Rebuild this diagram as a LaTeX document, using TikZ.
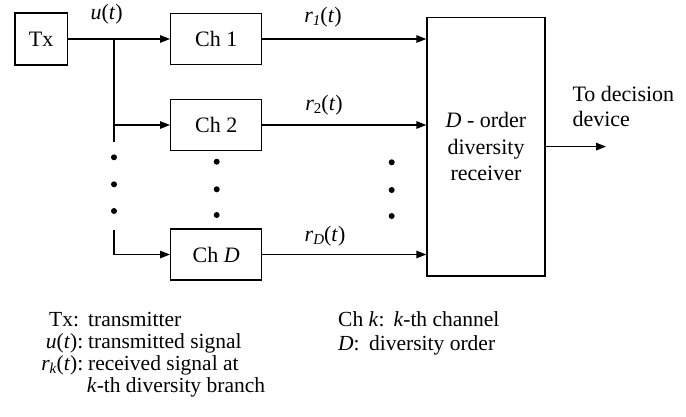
\documentclass[tikz,border=0pt]{standalone}
\usepackage{fontspec}
\setmainfont{Liberation Serif}
\usetikzlibrary{arrows.meta}
\newcommand{\sbs}[1]{\raisebox{-0.3ex}{\fontsize{15}{15}\selectfont #1}}
\begin{document}
\begin{tikzpicture}[x=1pt,y=-1pt,
  every node/.style={font=\fontsize{22}{26.5}\selectfont, inner sep=0pt},
  blk/.style={draw, line width=1.4pt, minimum width=91pt, minimum height=51pt},
  arr/.style={line width=1.4pt, -{Triangle[length=10pt,width=7.5pt]}},
  ln/.style={line width=1.4pt},
  lg/.style={anchor=base west, font=\fontsize{21.5}{25}\selectfont},
  lge/.style={anchor=base east, font=\fontsize{21.5}{25}\selectfont},
  dotc/.style={circle, fill, minimum size=6pt}
]
\useasboundingbox (0,0) rectangle (686,416);
% blocks
\node[blk, minimum width=52.3pt, minimum height=52.3pt] (tx) at (41.2,39) {Tx};
\node[blk] (ch1) at (216.2,39) {Ch 1};
\node[blk] (ch2) at (216.2,125) {Ch 2};
\node[blk] (chD) at (216.2,254.5) {Ch \textit{D}};
\node[blk, minimum width=118pt, minimum height=258.7pt, align=center] (rx) at (486,146.6) {\textit{D} - order\\diversity\\receiver};
% branch points
\coordinate (b1) at (114,39);
\coordinate (b2) at (114,125);
\coordinate (bt) at (114,141.7);
\coordinate (bD0) at (114,230);
\coordinate (bD) at (114,254.5);
\coordinate (out) at (606,146.6);
% connectors
\draw[arr] (tx.east) -- (ch1.west);
\draw[ln] (b1) -- (bt);
\draw[arr] (b2) -- (ch2.west);
\draw[arr] (bD0) -- (bD) -- (chD.west);
\draw[arr] (ch1.east) -- (ch1.east -| rx.west);
\draw[arr] (ch2.east) -- (ch2.east -| rx.west);
\draw[arr] (chD.east) -- (chD.east -| rx.west);
\draw[arr] (rx.east) -- (out);
% dots
\node[dotc] (d1) at (114,157.3) {};
\node[dotc] (d2) at (114,184.3) {};
\node[dotc] (d3) at (114,211) {};
\node[dotc] (d4) at (216.7,161.7) {};
\node[dotc] (d5) at (216.7,189.3) {};
\node[dotc] (d6) at (216.7,215) {};
\node[dotc] (d7) at (391.7,162.3) {};
\node[dotc] (d8) at (391.7,190) {};
\node[dotc] (d9) at (391.7,216) {};
% signal labels
\node[anchor=base] (ul) at (106.7,19) {\textit{u}(\textit{t})};
\node[anchor=base] (r1l) at (323,22) {\textit{r}\sbs{\textit{1}}(\textit{t})};
\node[anchor=base] (r2l) at (324,110) {\textit{r}\sbs{2}(\textit{t})};
\node[anchor=base] (rDl) at (325,241) {\textit{r}\sbs{\textit{D}}(\textit{t})};
\node[anchor=base west] (dec1) at (572.3,101.7) {To decision};
\node[anchor=base west] (dec2) at (572.3,126.7) {device};
% legend
\node[lg] (l1a) at (49,326.7) {Tx:};
\node[lg] (l1b) at (88,326.7) {transmitter};
\node[lge] (l2a) at (83.5,348) {\textit{u}(\textit{t}):};
\node[lg] (l2b) at (88,348) {transmitted signal};
\node[lge] (l3a) at (83.5,370.7) {\textit{r}\sbs{\textit{k}}(\textit{t}):};
\node[lg] (l3b) at (88,370.7) {received signal at};
\node[lg] (l4) at (86.7,392) {\textit{k}-th diversity branch};
\node[lg] (l5a) at (338,326.7) {Ch \textit{k}:};
\node[lg] (l5b) at (393.3,326.7) {\textit{k}-th channel};
\node[lg] (l6a) at (338,350) {\textit{D}:};
\node[lg] (l6b) at (369,350) {diversity order};
\end{tikzpicture}
\end{document}
